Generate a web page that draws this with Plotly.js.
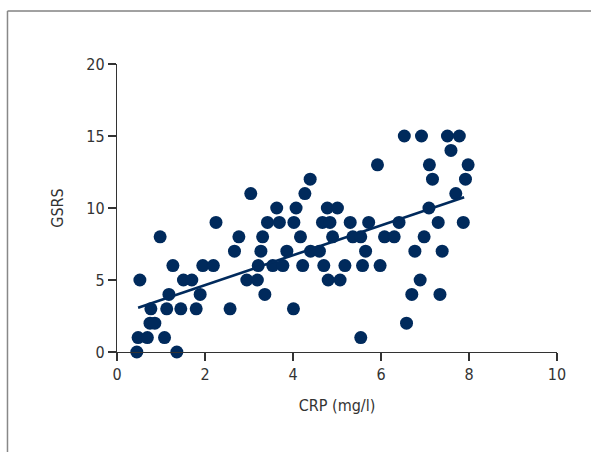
<!DOCTYPE html>
<html>
<head>
<meta charset="utf-8">
<script src="https://cdn.plot.ly/plotly-3.0.1.min.js"></script>
<style>html,body{margin:0;padding:0;background:#fff;}#chart{width:591px;height:452px;}</style>
</head>
<body>
<div id="chart"></div>
<script>
// CRP (mg/l) vs GSRS scatter data
const crp = [0.45,1.36,0.48,0.69,1.08,0.75,0.86,0.77,1.13,1.45,1.80,2.57,1.18,1.89,0.52,1.51,1.70,2.95,1.27,1.95,2.19,2.67,2.77,0.98,2.25,3.04,4.39,4.27,3.63,4.07,4.78,5.01,3.42,3.69,4.02,4.67,4.84,5.30,5.72,3.31,4.17,4.90,5.36,5.54,3.27,3.86,4.40,4.60,5.65,3.21,3.54,3.77,4.22,4.70,5.18,5.58,3.19,4.80,5.07,3.36,4.01,5.54,6.53,6.92,7.51,7.78,7.59,5.92,7.10,7.98,7.17,7.92,7.70,7.09,6.41,7.30,7.87,6.08,6.30,6.98,6.77,7.39,5.98,6.89,6.70,7.34,6.58];
const gsrs = [0,0,1,1,1,2,2,3,3,3,3,3,4,4,5,5,5,5,6,6,6,7,8,8,9,11,12,11,10,10,10,10,9,9,9,9,9,9,9,8,8,8,8,8,7,7,7,7,7,6,6,6,6,6,6,6,5,5,5,4,3,1,15,15,15,15,14,13,13,13,12,12,11,10,9,9,9,8,8,8,7,7,6,5,4,4,2];
// regression line end points
const fitX = [0.48, 7.89];
const fitY = [3.08, 10.74];
const xTicks = [0,2,4,6,8,10];
const yTicks = [0,5,10,15,20];

const navy = '#002a5c';
const fontFam = '"Liberation Sans Narrow","DejaVu Sans Condensed",sans-serif';

const traces = [
  {x: crp, y: gsrs, type: 'scatter', mode: 'markers', cliponaxis: false,
   marker: {color: navy, size: 13, line: {width: 0}}, hoverinfo: 'x+y'},
  {x: fitX, y: fitY, type: 'scatter', mode: 'lines', cliponaxis: false,
   line: {color: navy, width: 2.6}}
];

const layout = {
  width: 591, height: 452,
  margin: {l: 117, r: 34, t: 64, b: 100},
  showlegend: false,
  paper_bgcolor: '#fff', plot_bgcolor: '#fff',
  font: {family: fontFam, size: 16, color: '#333'},
  xaxis: {
    range: [0, 10], tickvals: xTicks, ticktext: xTicks.map(String),
    showgrid: false, zeroline: false, showline: true, linecolor: '#333', linewidth: 1.2,
    ticks: 'outside', ticklen: 8, tickwidth: 1.2, tickcolor: '#333',
    tickfont: {family: fontFam, size: 16, color: '#333'},
    title: {text: 'CRP (mg/l)', font: {family: fontFam, size: 16, color: '#333'}, standoff: 16}
  },
  yaxis: {
    range: [0, 20], tickvals: yTicks, ticktext: yTicks.map(String),
    showgrid: false, zeroline: false, showline: true, linecolor: '#333', linewidth: 1.2,
    ticks: 'outside', ticklen: 8, tickwidth: 1.2, tickcolor: '#333',
    tickfont: {family: fontFam, size: 16, color: '#333'},
    title: {text: 'GSRS', font: {family: fontFam, size: 16, color: '#333'}, standoff: 18}
  },
  shapes: [
    {type: 'line', xref: 'paper', yref: 'paper', x0: -0.2489, x1: 1.08, y0: 1.184, y1: 1.184,
     line: {color: '#444', width: 1}},
    {type: 'line', xref: 'paper', yref: 'paper', x0: -0.2489, x1: -0.2489, y0: 1.184, y1: -0.36,
     line: {color: '#888', width: 1.5}}
  ]
};

Plotly.newPlot('chart', traces, layout, {displayModeBar: false, staticPlot: true});
</script>
</body>
</html>
